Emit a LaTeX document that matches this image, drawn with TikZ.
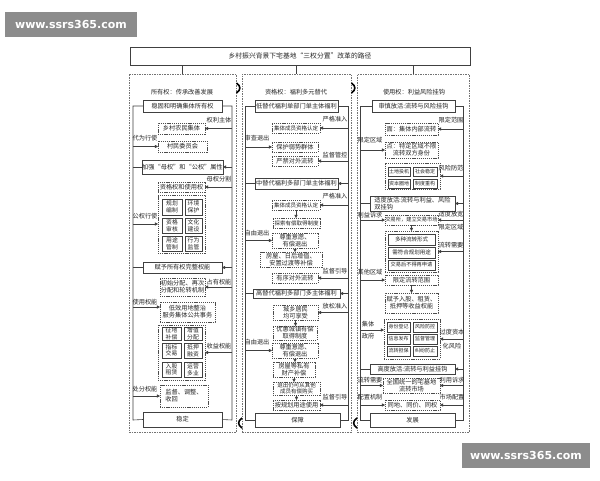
\documentclass[tikz,border=0pt]{standalone}
\usepackage{fontspec}
\setmainfont{Noto Sans CJK SC}
\newfontfamily\wmfont{DejaVu Sans}
\usetikzlibrary{arrows.meta}
\newcommand\bx[7]{\node[#6, minimum width={(#4)-(#2)}, minimum height={(#5)-(#3)}] (#1) at ({((#2)+(#4))/2},{((#3)+(#5))/2}) {#7};}
\newcommand\lb[4]{\node[lbl] (#1) at (#2,#3) {#4};}
\newcommand\rarr[2]{\draw[arr] (#1.east -| #2) -- (#1.east);}
\newcommand\larr[2]{\draw[arr] (#1.west -| #2) -- (#1.west);}
\newcommand\stage[3]{\draw[ln] (#1.west) -- (#1.west -| #2); \draw[arr] (#1.east -| #3) -- (#1.east);}
\newcommand\darr[2]{\draw[arr] (#1.south) -- (#1.south |- #2.north);}
\begin{document}
\begin{tikzpicture}[x=1pt,y=-1pt,
  every node/.style={inner sep=0pt, outer sep=0pt, font=\fontsize{6.2}{7.2}\selectfont, text=black!85},
  sbox/.style={draw=black!75, line width=0.6pt, align=center},
  dbox/.style={draw=black!70, line width=0.5pt, dash pattern=on 1.2pt off 0.9pt, align=center},
  gbox/.style={draw=black!75, line width=0.5pt, align=center, font=\fontsize{5.8}{6.6}\selectfont},
  tbox/.style={draw=black!75, line width=0.5pt, align=center, font=\fontsize{5}{6}\selectfont},
  frame/.style={draw=black!55, line width=0.5pt, dash pattern=on 1.5pt off 1pt},
  lbl/.style={},
  ln/.style={draw=black!75, line width=0.6pt},
  arr/.style={draw=black!75, line width=0.5pt, -{Triangle[length=3.2pt,width=3.2pt]}},
  sm/.style={font=\fontsize{5.5}{6.5}\selectfont},
  wm/.style={fill=black!45, text=white, font=\wmfont\bfseries\fontsize{11}{13}\selectfont},
  brk/.style={draw=black, line width=1.6pt}
]
\fill[white] (0,0) rectangle (600,480);
\useasboundingbox (0,0) rectangle (600,480);

% watermarks
\bx{wmA}{5}{12}{137}{37}{wm}{www.ssrs365.com}
\bx{wmB}{462}{443}{590}{468}{wm}{www.ssrs365.com}

% title and column frames
\bx{title}{130}{47}{470}{65}{sbox, line width=0.5pt, font=\fontsize{6.8}{8}\selectfont}{乡村振兴背景下宅基地“三权分置”改革的路径}
\bx{c1}{129}{74}{236}{432}{frame}{}
\bx{c2}{242}{74}{351}{432}{frame}{}
\bx{c3}{357}{74}{469}{432}{frame}{}
\draw[ln] (c1.north |- title.south) -- (c1.north);
\draw[ln] (c2.north |- title.south) -- (c2.north);
\draw[ln] (c3.north |- title.south) -- (c3.north);

% brackets between columns
\draw[brk] (236.5,83) .. controls (241,86) and (241,90) .. (236.5,93);
\draw[brk] (351.5,83) .. controls (356,86) and (356,90) .. (351.5,93);
\draw[brk] (242,418) .. controls (237.5,421) and (237.5,425) .. (242,428);
\draw[brk] (357,418) .. controls (352.5,421) and (352.5,425) .. (357,428);

%================ Column 1
\node (h1) at (182,92) {所有权：传承改善发展};
\bx{b11}{143}{100}{222}{112}{sbox}{稳固和明确集体所有权}
\bx{s1}{143}{412}{222}{427}{sbox}{稳定}
\coordinate (L1) at (133,420);
\coordinate (R1) at (232,420);
\draw[ln] (b11.west) -| (L1) -- (s1.west);
\draw[ln] (b11.east) -| (R1) -- (s1.east);

\bx{d11}{158}{123}{205}{134}{dbox}{乡村农民集体}
\lb{l11}{219}{120}{权利主体}
\rarr{d11}{R1}
\bx{d12}{158}{141}{207}{152}{dbox}{村民委员会}
\lb{l12}{145}{138}{代为行使}
\larr{d12}{L1}
\bx{b12}{142}{160}{223}{174}{sbox}{加强“母权”和“公权”属性}
\stage{b12}{L1}{R1}
\bx{d13}{158}{182}{205}{192}{dbox}{资格权和使用权}
\lb{l13}{219}{179}{母权分割}
\rarr{d13}{R1}
\bx{g1}{158}{195}{205}{253}{dbox}{}
\bx{g11}{162}{199}{182}{215}{gbox}{规划\\编制}
\bx{g12}{185}{199}{202}{215}{gbox}{环境\\保护}
\bx{g13}{162}{218}{182}{233}{gbox}{资格\\审核}
\bx{g14}{185}{218}{202}{233}{gbox}{文化\\建设}
\bx{g15}{162}{236}{182}{251}{gbox}{用途\\管制}
\bx{g16}{185}{236}{202}{251}{gbox}{行为\\监管}
\lb{l14}{145}{216}{公权行使}
\larr{g1}{L1}
\bx{b13}{143}{262}{222}{273}{sbox}{赋予所有权完整权能}
\stage{b13}{L1}{R1}
\bx{d14}{160}{278}{205}{296}{dbox}{初始分配、再次\\分配和轮转机制}
\lb{l15}{219}{282}{占有权能}
\rarr{d14}{R1}
\bx{d15}{160}{302}{215}{322}{dbox}{低效用地整治\\服务集体公共事务}
\lb{l16}{145}{302}{使用权能}
\coordinate (d15a) at ([yshift=-5pt]d15.north west);
\draw[arr] (d15a -| L1) -- (d15a);
\bx{g2}{158}{325}{205}{380}{dbox}{}
\bx{g21}{162}{327}{181}{340}{gbox}{征地\\补偿}
\bx{g22}{184}{327}{202}{340}{gbox}{增值\\分配}
\bx{g23}{162}{343}{181}{358}{gbox}{指标\\交易}
\bx{g24}{184}{343}{202}{358}{gbox}{抵押\\融资}
\bx{g25}{162}{362}{181}{377}{gbox}{入股\\租赁}
\bx{g26}{184}{362}{202}{377}{gbox}{运营\\多业}
\lb{l17}{219}{346}{收益权能}
\rarr{g2}{R1}
\bx{d16}{160}{385}{208}{407}{dbox, align=left}{监督、调整、\\收回}
\lb{l18}{145}{389}{处分权能}
\larr{d16}{L1}

%================ Column 2
\node (h2) at (296,92) {资格权：福利多元替代};
\bx{b21}{255}{100}{338}{112}{sbox}{低替代福利单部门单主体福利}
\bx{s2}{255}{413}{340}{427}{sbox}{保障}
\coordinate (L2) at (245,420);
\coordinate (R2) at (348,420);
\draw[ln] (b21.west) -| (L2) -- (s2.west);
\draw[ln] (b21.east) -| (R2) -- (s2.east);

\bx{d21}{272}{123}{320}{133}{dbox, sm}{集体成员资格认定}
\lb{l21}{335}{119}{严格准入}
\rarr{d21}{R2}
\bx{d22}{272}{142}{318}{152}{dbox}{保护弱势群体}
\lb{l22}{257}{138}{审查退出}
\larr{d22}{L2}
\bx{d23}{272}{156}{318}{166}{dbox}{严禁对外流转}
\lb{l23}{335}{155}{监督管控}
\rarr{d23}{R2}
\bx{b22}{255}{178}{338}{189}{sbox}{中替代福利多部门单主体福利}
\stage{b22}{L2}{R2}
\bx{d24}{272}{200}{320}{210}{dbox, sm}{集体成员资格认定}
\lb{l24}{335}{196}{严格准入}
\rarr{d24}{R2}
\bx{d25}{273}{218}{320}{228}{dbox, sm}{探索有偿取得制度}
\darr{d24}{d25}
\bx{d26}{272}{233}{318}{248}{dbox}{尊重意愿、\\有偿退出}
\lb{l25}{257}{233}{自由退出}
\larr{d26}{L2}
\bx{d27}{260}{252}{322}{267}{dbox}{房屋、日后增值、\\安置过渡等补偿}
\darr{d26}{d27}
\bx{d28}{272}{273}{318}{283}{dbox}{有序对外流转}
\lb{l26}{335}{271}{监督引导}
\rarr{d28}{R2}
\bx{b23}{253}{289}{340}{298}{sbox}{高替代福利多部门多主体福利}
\stage{b23}{L2}{R2}
\bx{d29}{273}{305}{318}{320}{dbox}{城乡居民\\均可享受}
\lb{l27}{335}{306}{放松准入}
\rarr{d29}{R2}
\bx{d2a}{273}{326}{317}{340}{dbox}{优惠城镇有偿\\取得制度}
\darr{d29}{d2a}
\bx{d2b}{272}{343}{318}{358}{dbox}{尊重意愿、\\有偿退出}
\lb{l28}{257}{342}{自由退出}
\larr{d2b}{L2}
\bx{d2c}{273}{362}{315}{377}{dbox}{房屋等私有\\财产补偿}
\darr{d2b}{d2c}
\bx{d2d}{273}{382}{320}{395}{dbox, sm}{退出仍可从其他\\成员有偿购买}
\darr{d2c}{d2d}
\bx{d2e}{273}{400}{320}{410}{dbox}{按规划用途使用}
\darr{d2d}{d2e}
\lb{l29}{335}{397}{监督引导}
\rarr{d2e}{R2}

%================ Column 3
\node (h3) at (414,92) {使用权：利益风险挂钩};
\bx{b31}{372}{100}{455}{112}{sbox}{审慎放活:流转与风险挂钩}
\bx{s3}{370}{413}{455}{427}{sbox}{发展}
\coordinate (L3) at (360,420);
\coordinate (R3) at (463,420);
\draw[ln] (b31.west) -| (L3) -- (s3.west);
\draw[ln] (b31.east) -| (R3) -- (s3.east);

\bx{d31}{385}{123}{438}{135}{dbox}{面：集体内部流转}
\lb{l31}{451}{120}{限定范围}
\rarr{d31}{R3}
\bx{d32}{385}{142}{438}{158}{dbox}{点：特定区域不限\\流转双方身份}
\lb{l32}{370}{140}{限定区域}
\larr{d32}{L3}
\bx{g3}{385}{163}{440}{189}{dbox}{}
\bx{g31}{388}{167}{410}{176}{tbox}{土地投机}
\bx{g32}{413}{167}{437}{176}{tbox}{社会稳定}
\bx{g33}{388}{179}{410}{188}{tbox}{资本圈地}
\bx{g34}{413}{179}{437}{188}{tbox}{制度重构}
\lb{l33}{451}{168}{风险防范}
\rarr{g3}{R3}
\bx{b32}{370}{196}{455}{211}{sbox, align=left}{适度放活:流转与利益、风险\\双挂钩}
\stage{b32}{L3}{R3}
\bx{d33}{385}{215}{438}{225}{dbox, font=\fontsize{5.2}{6}\selectfont}{交易所，建立交易市场}
\lb{l34}{370}{215}{利益诉求}
\larr{d33}{L3}
\lb{l35}{451}{214}{适度放宽}
\lb{l36}{451}{227}{限定区域}
\rarr{d33}{R3}
\bx{g4}{385}{231}{438}{272}{dbox}{}
\bx{g41}{388}{234}{435}{245}{gbox, font=\fontsize{5.5}{6.5}\selectfont}{多种流转形式}
\bx{g42}{388}{247}{435}{258}{gbox, font=\fontsize{5.5}{6.5}\selectfont}{需符合规划用途}
\bx{g43}{388}{260}{435}{270}{gbox, font=\fontsize{5.2}{6.2}\selectfont}{交易后不得再申请}
\darr{d33}{g4}
\lb{l37}{451}{245}{流转需要}
\rarr{g4}{R3}
\bx{d34}{385}{275}{438}{285}{dbox}{限定流转范围}
\lb{l38}{370}{272}{其他区域}
\larr{d34}{L3}
\bx{d35}{385}{293}{438}{313}{dbox}{赋予入股、租赁、\\抵押等收益权能}
\darr{d34}{d35}
\bx{g5}{384}{319}{440}{359}{dbox}{}
\bx{g51}{387}{322}{410}{332}{tbox}{身份登记}
\bx{g52}{413}{322}{437}{332}{tbox}{风险防控}
\bx{g53}{387}{334}{410}{344}{tbox}{信息发布}
\bx{g54}{413}{334}{437}{344}{tbox}{监督管理}
\bx{g55}{387}{346}{410}{356}{tbox}{流转担保}
\bx{g56}{413}{346}{437}{356}{tbox}{纠纷防止}
\lb{l39}{368}{324}{集体}
\lb{l3a}{368}{336}{政府}
\coordinate (g5a) at ([yshift=-11pt]g5.north west);
\draw[arr] (g5a -| L3) -- (g5a);
\lb{l3b}{452}{332}{过度资本}
\lb{l3c}{452}{346}{化风险}
\rarr{g5}{R3}
\bx{b33}{370}{364}{455}{374}{sbox}{高度放活:流转与利益挂钩}
\stage{b33}{L3}{R3}
\bx{d36}{383}{378}{440}{393}{dbox}{全国统一的宅基地\\流转市场}
\lb{l3d}{370}{380}{流转需要}
\lb{l3e}{452}{380}{利用诉求}
\larr{d36}{L3}
\rarr{d36}{R3}
\bx{d37}{385}{400}{440}{410}{dbox}{同地、同价、同权}
\lb{l3f}{370}{397}{配置机制}
\lb{l3g}{452}{397}{市场配置}
\larr{d37}{L3}
\rarr{d37}{R3}
\end{tikzpicture}
\end{document}
